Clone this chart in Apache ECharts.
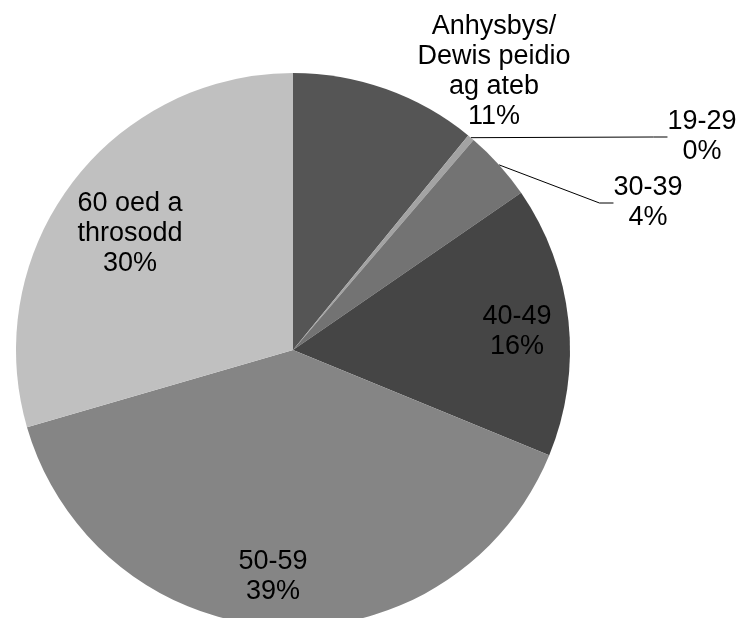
<!DOCTYPE html>
<html><head><meta charset="utf-8">
<script src="https://cdn.jsdelivr.net/npm/echarts@6/dist/echarts.min.js"></script>
<style>html,body{margin:0;padding:0;background:#fff}#chart{width:741px;height:618px}</style>
</head><body><div id="chart"></div>
<script>
// Data
const categories = ['Anhysbys/\nDewis peidio\nag ateb', '19-29', '30-39', '40-49', '50-59', '60 oed a\nthrosodd'];
const values = [10.9, 0.4, 4.1, 15.8, 39.3, 29.5];

// Styles / layout (kept separate from data)
const colors = ['#555555', '#a3a3a3', '#737373', '#454545', '#858585', '#c0c0c0'];
const labelAnchors = [[494, 72], [702, 137], [648, 203], [517, 332], [273, 577], [130, 234]];
const showLine = [false, true, true, false, false, false];
const insideLabel = [false, false, false, true, true, true];

const chart = echarts.init(document.getElementById('chart'), null, { renderer: 'canvas' });
chart.setOption({
  animation: false,
  backgroundColor: '#ffffff',
  series: [{
    type: 'pie',
    center: [293, 350],
    radius: 277,
    startAngle: 90,
    clockwise: true,
    avoidLabelOverlap: false,
    percentPrecision: 0,
    itemStyle: { borderWidth: 0 },
    emphasis: { disabled: true },
    label: {
      formatter: p => p.name + '\n' + p.percent + '%',
      color: '#000',
      fontFamily: '"Liberation Sans", Arial, sans-serif',
      fontSize: 27,
      lineHeight: 30,
      align: 'center'
    },
    labelLine: { length: 10, length2: 14, lineStyle: { color: '#000', width: 1 } },
    labelLayout: p => ({
      x: labelAnchors[p.dataIndex][0],
      y: labelAnchors[p.dataIndex][1],
      align: 'center',
      verticalAlign: 'middle'
    }),
    data: categories.map((c, i) => ({
      name: c,
      value: values[i],
      itemStyle: { color: colors[i] },
      label: { position: insideLabel[i] ? 'inside' : 'outside' },
      labelLine: { show: showLine[i] }
    }))
  }]
});
</script>
</body></html>
